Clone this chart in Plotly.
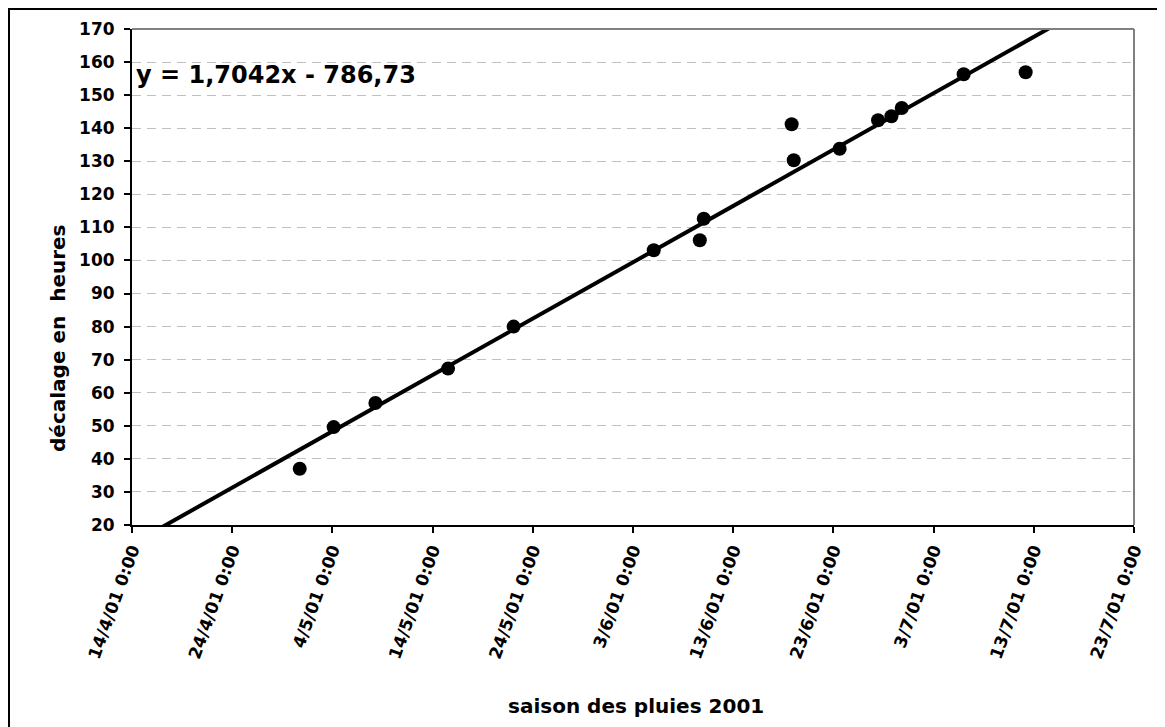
import plotly.graph_objects as go
import pandas as pd

# ---- data ----
obs_dates = [
    "2001-04-30 17:45", "2001-05-04 03:00", "2001-05-08 07:00", "2001-05-15 13:00",
    "2001-05-22 02:00", "2001-06-05 01:40", "2001-06-09 16:00", "2001-06-10 01:30",
    "2001-06-18 20:00", "2001-06-19 01:00", "2001-06-23 15:00", "2001-06-27 11:00",
    "2001-06-28 19:00", "2001-06-29 19:40", "2001-07-06 00:00", "2001-07-12 04:30",
]
shift_hours = [37.0, 49.6, 56.9, 67.3, 80.0, 103.1, 106.1, 112.6,
               141.2, 130.3, 133.8, 142.4, 143.6, 146.1, 156.3, 156.9]

tick_dates = ["2001-04-14", "2001-04-24", "2001-05-04", "2001-05-14", "2001-05-24",
              "2001-06-03", "2001-06-13", "2001-06-23", "2001-07-03", "2001-07-13",
              "2001-07-23"]
tick_labels = ["14/4/01 0:00", "24/4/01 0:00", "4/5/01 0:00", "14/5/01 0:00",
               "24/5/01 0:00", "3/6/01 0:00", "13/6/01 0:00", "23/6/01 0:00",
               "3/7/01 0:00", "13/7/01 0:00", "23/7/01 0:00"]
y_ticks = [20, 30, 40, 50, 60, 70, 80, 90, 100, 110, 120, 130, 140, 150, 160, 170]

# trend line as displayed: y = 1,7042x - 786,73 (x = day number, 1/1/2000 = 1)
trend_slope = 1.7042
trend_intercept = -786.73
trend_origin = "1999-12-31"
equation_text = "y = 1,7042x - 786,73"

x_title = "saison des pluies 2001"
y_title = "décalage en\u00a0 heures"

# ---- build ----
trend_x = pd.to_datetime([tick_dates[0], tick_dates[-1]])
day_num = (trend_x - pd.Timestamp(trend_origin)) / pd.Timedelta(days=1)
trend_y = trend_slope * day_num + trend_intercept

FONT = "DejaVu Sans"

fig = go.Figure()
fig.add_trace(go.Scatter(
    x=list(trend_x), y=list(trend_y), mode="lines",
    line=dict(color="black", width=4), hoverinfo="skip", showlegend=False,
))
fig.add_trace(go.Scatter(
    x=pd.to_datetime(obs_dates), y=shift_hours, mode="markers",
    marker=dict(color="black", size=14), showlegend=False, cliponaxis=False,
))

W, H = 1165, 727
OFF = 8  # page offset of the figure
L, R, T, B = 124, 39, 21, 210
pw, ph = W - L - R, H - T - B

def px_x(p):
    return (p - OFF - L) / pw

def px_y(p):
    return 1 - (p - OFF - T) / ph

fig.update_layout(
    width=W, height=H,
    margin=dict(l=L, r=R, t=T, b=B),
    paper_bgcolor="white", plot_bgcolor="white",
    showlegend=False,
    xaxis=dict(
        type="date",
        range=[tick_dates[0], tick_dates[-1]],
        tickmode="array", tickvals=tick_dates, ticktext=tick_labels,
        tickangle=-70,
        tickfont=dict(family=FONT, size=17, color="black", weight="bold"),
        ticks="outside", ticklen=6, tickwidth=1.5, tickcolor="black",
        showline=True, linecolor="black", linewidth=2,
        showgrid=False, zeroline=False,
    ),
    yaxis=dict(
        range=[y_ticks[0], y_ticks[-1]],
        tickmode="array", tickvals=y_ticks,
        tickfont=dict(family=FONT, size=17, color="black", weight="bold"),
        ticks="outside", ticklen=6, tickwidth=1.5, tickcolor="black",
        ticklabelstandoff=6,
        showline=True, linecolor="black", linewidth=2,
        showgrid=True, gridcolor="#c0c0c0", gridwidth=1, griddash="9px,6px",
        zeroline=False,
    ),
    shapes=[
        dict(type="line", xref="paper", yref="paper", x0=0, x1=1, y0=1, y1=1,
             line=dict(color="#808080", width=2)),
        dict(type="line", xref="paper", yref="paper", x0=1, x1=1, y0=0, y1=1,
             line=dict(color="#808080", width=2)),
        dict(type="rect", xref="paper", yref="paper",
             x0=px_x(OFF + 1), x1=px_x(W + OFF - 1), y0=px_y(H + OFF - 1), y1=px_y(OFF + 1),
             line=dict(color="black", width=2), layer="below"),
    ],
    annotations=[
        dict(text=equation_text, xref="paper", yref="paper",
             x=px_x(134), y=px_y(75), xanchor="left", yanchor="middle",
             showarrow=False,
             font=dict(family=FONT, size=24, color="black", weight="bold")),
        dict(text=x_title, xref="paper", yref="paper",
             x=px_x(636), y=px_y(706), xanchor="center", yanchor="middle",
             showarrow=False,
             font=dict(family=FONT, size=20, color="black", weight="bold")),
        dict(text=y_title, xref="paper", yref="paper",
             x=px_x(58), y=px_y(338), xanchor="center", yanchor="middle",
             textangle=-90, showarrow=False,
             font=dict(family=FONT, size=20, color="black", weight="bold")),
    ],
)

fig.write_html("out.html")
